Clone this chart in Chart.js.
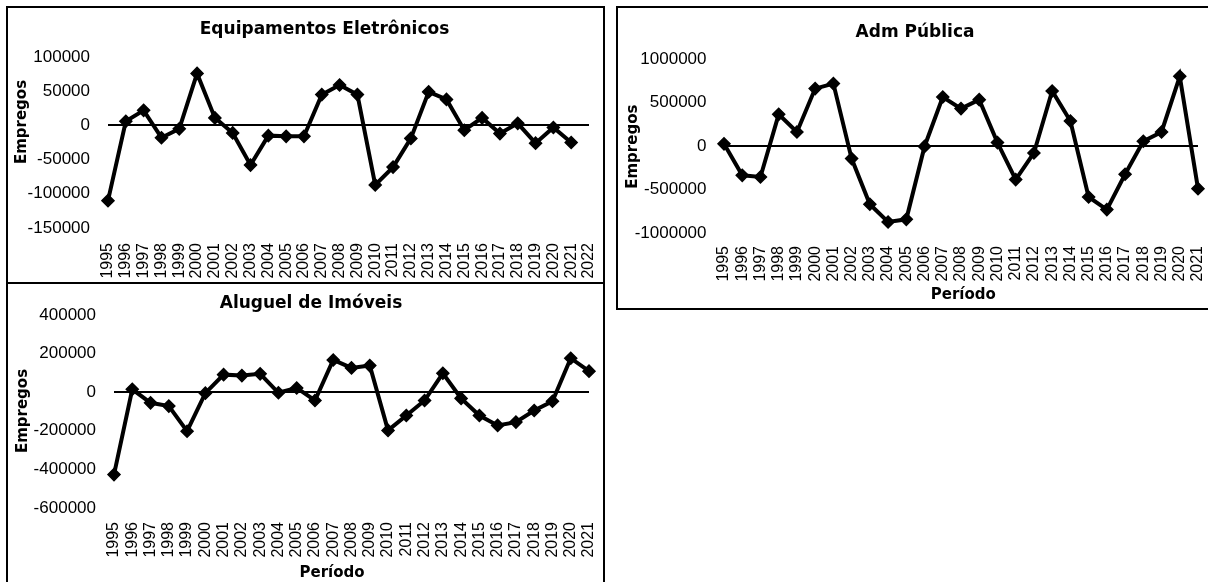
<!DOCTYPE html>
<html>
<head>
<meta charset="utf-8">
<script src="https://cdn.jsdelivr.net/npm/chart.js@4.4.1/dist/chart.umd.min.js"></script>
<style>
  html, body { margin: 0; padding: 0; background: #fff; overflow: hidden; width: 1208px; height: 582px; }
  .painel { position: absolute; border: 2px solid #000; background: #fff; }
  .painel canvas { display: block; }
  #p1 { left: 6px; top: 6px; width: 595px; height: 274px; }
  #p3 { left: 6px; top: 282px; width: 595px; height: 308px; }
  #p2 { left: 616px; top: 6px; width: 608px; height: 300px; }
</style>
</head>
<body>
<div class="painel" id="p1"><canvas id="c1" width="595" height="274"></canvas></div>
<div class="painel" id="p3"><canvas id="c3" width="595" height="308"></canvas></div>
<div class="painel" id="p2"><canvas id="c2" width="608" height="300"></canvas></div>
<script>
// Períodos (eixo das categorias)
const anos = ['1995','1996','1997','1998','1999','2000','2001','2002','2003','2004','2005','2006','2007','2008','2009','2010','2011','2012','2013','2014','2015','2016','2017','2018','2019','2020','2021'];
const anosEletronicos = anos.concat(['2022']);

// Saldo de empregos por setor
const equipamentosEletronicos = [-110000, 6000, 22000, -18000, -5000, 76000, 11000, -11000, -58000, -15000, -16000, -16000, 45000, 59000, 45000, -87000, -61000, -19000, 49000, 38000, -7000, 11000, -12000, 3000, -26000, -3000, -25000];
const admPublica = [25000, -337000, -356000, 364000, 161000, 660000, 717000, -145000, -670000, -873000, -843000, -5000, 563000, 430000, 533000, 39000, -386000, -80000, 632000, 287000, -586000, -731000, -325000, 55000, 161000, 801000, -490000];
const aluguelImoveis = [-427000, 15000, -55000, -72000, -202000, -5000, 91000, 86000, 95000, -3000, 22000, -43000, 167000, 126000, 138000, -198000, -121000, -43000, 98000, -32000, -121000, -172000, -155000, -95000, -47000, 176000, 109000];

// Limites do eixo vertical
const eixoEletronicos = { min: -150000, max: 100000, passo: 50000 };
const eixoAdm = { min: -1000000, max: 1000000, passo: 500000 };
const eixoAluguel = { min: -600000, max: 400000, passo: 200000 };

const fonteTitulo = 'bold 17px "DejaVu Sans"';
const fonteEixo = 'bold 15px "DejaVu Sans"';

// Títulos e rótulos de eixo desenhados sobre o canvas
const textos = {
  id: 'textos',
  afterDraw(chart, args, opts) {
    const ctx = chart.ctx;
    (opts.items || []).forEach(t => {
      ctx.save();
      ctx.translate(t.x, t.y);
      if (t.rot) ctx.rotate(t.rot * Math.PI / 180);
      ctx.font = t.font;
      ctx.fillStyle = '#000';
      ctx.textAlign = 'center';
      ctx.textBaseline = t.baseline || 'alphabetic';
      ctx.fillText(t.text, 0, 0);
      ctx.restore();
    });
  }
};

function painel(id, cfg) {
  return new Chart(document.getElementById(id), {
    type: 'line',
    data: {
      labels: cfg.labels,
      datasets: [{
        data: cfg.values,
        borderColor: '#000',
        backgroundColor: '#000',
        borderWidth: 4,
        tension: 0,
        pointStyle: 'rectRot',
        pointRadius: 6,
        pointHoverRadius: 6,
        pointBorderWidth: 1.5,
        pointBackgroundColor: '#000',
        pointBorderColor: '#000',
        clip: false
      }]
    },
    options: {
      responsive: false,
      animation: false,
      events: [],
      layout: { padding: { top: cfg.padTop, right: cfg.padRight, left: 0, bottom: 0 } },
      plugins: {
        legend: { display: false },
        tooltip: { enabled: false },
        textos: { items: cfg.texts }
      },
      scales: {
        x: {
          type: 'category',
          offset: false,
          // marcas invisíveis: só afastam os rótulos do eixo
          grid: { display: false, drawTicks: true, tickLength: cfg.xGap },
          border: { display: false },
          ticks: {
            autoSkip: false, minRotation: 90, maxRotation: 90,
            padding: 0, color: '#000',
            font: { family: '"Liberation Sans", Arial, sans-serif', size: 16 }
          },
          afterFit: s => { s.height = cfg.xHeight; s.paddingLeft = 0; s.paddingRight = 0; }
        },
        y: {
          min: cfg.eixo.min,
          max: cfg.eixo.max,
          grid: {
            drawTicks: false,
            lineWidth: 2,
            color: c => (c.tick && c.tick.value === 0) ? '#000' : 'rgba(0,0,0,0)'
          },
          border: { display: false },
          ticks: {
            stepSize: cfg.eixo.passo,
            padding: cfg.yPad,
            color: '#000',
            font: { family: '"Liberation Sans", Arial, sans-serif', size: 17 },
            callback: v => String(v)
          },
          afterFit: s => { s.width = cfg.yWidth; }
        }
      }
    },
    plugins: [textos]
  });
}

painel('c1', {
  labels: anosEletronicos, values: equipamentosEletronicos, eixo: eixoEletronicos,
  padTop: 49, padRight: 14, xHeight: 54, yWidth: 100, yPad: 18, xGap: 15,
  texts: [
    { text: 'Equipamentos Eletrônicos', x: 316.5, y: 26.3, font: fonteTitulo },
    { text: 'Empregos', x: 14, y: 114, rot: -90, baseline: 'middle', font: fonteEixo }
  ]
});

painel('c2', {
  labels: anos, values: admPublica, eixo: eixoAdm,
  padTop: 51, padRight: 28, xHeight: 75, yWidth: 106, yPad: 17.5, xGap: 13,
  texts: [
    { text: 'Adm Pública', x: 297, y: 28.7, font: fonteTitulo },
    { text: 'Empregos', x: 15, y: 138.7, rot: -90, baseline: 'middle', font: fonteEixo },
    { text: 'Período', x: 345.3, y: 291, font: fonteEixo }
  ]
});

painel('c3', {
  labels: anos, values: aluguelImoveis, eixo: eixoAluguel,
  padTop: 31, padRight: 14, xHeight: 84, yWidth: 106, yPad: 18, xGap: 14,
  texts: [
    { text: 'Aluguel de Imóveis', x: 303, y: 24.3, font: fonteTitulo },
    { text: 'Empregos', x: 15, y: 127, rot: -90, baseline: 'middle', font: fonteEixo },
    { text: 'Período', x: 324, y: 293, font: fonteEixo }
  ]
});
</script>
</body>
</html>
